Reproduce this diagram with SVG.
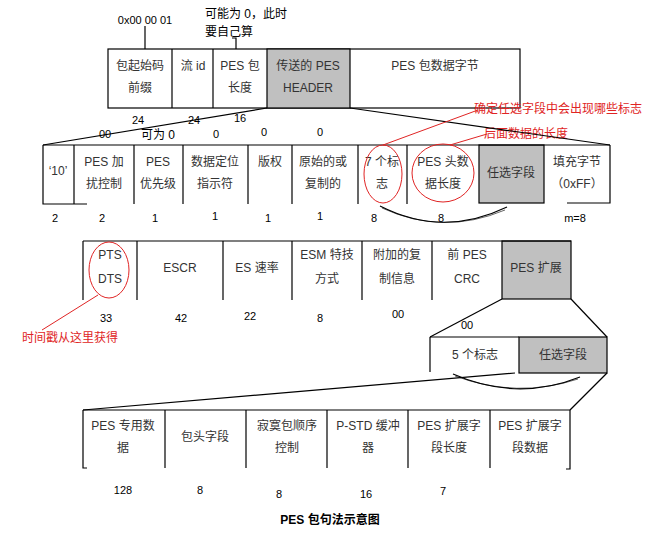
<svg xmlns="http://www.w3.org/2000/svg" width="653" height="534" viewBox="0 0 653 534">
<style>
.ln{stroke:#000;stroke-width:1.2;fill:none}
.gray{fill:#c0c0c0;stroke:#000;stroke-width:1.2}
.t{font-family:"Liberation Sans","Noto Sans CJK SC",sans-serif;font-size:12px;fill:#333;text-anchor:middle}
.n{font-family:"Liberation Sans","Noto Sans CJK SC",sans-serif;font-size:11px;fill:#000;text-anchor:middle}
.r{font-family:"Liberation Sans","Noto Sans CJK SC",sans-serif;font-size:12px;fill:#e02424}
.rl{stroke:#e02424;stroke-width:1;fill:none}
.title{font-family:"Liberation Sans","Noto Sans CJK SC",sans-serif;font-size:12px;font-weight:bold;fill:#000;text-anchor:middle}
</style>
<rect width="653" height="534" fill="#fff"/>

<!-- Row 1 -->
<g id="row1">
  <rect x="108" y="49" width="412" height="59" class="ln" fill="#fff"/>
  <rect x="267" y="49" width="83" height="59" class="gray"/>
  <line x1="172" y1="49" x2="172" y2="108" class="ln"/>
  <line x1="213" y1="49" x2="213" y2="108" class="ln"/>
</g>
<g id="n-start-code"><text class="t" x="140" y="70">包起始码</text><text class="t" x="140" y="92">前缀</text></g>
<g id="n-stream-id"><text class="t" x="193" y="70">流 id</text></g>
<g id="n-pes-len"><text class="t" x="240" y="70">PES 包</text><text class="t" x="240" y="92">长度</text></g>
<g id="n-pes-header"><text class="t" x="308" y="70">传送的 PES</text><text class="t" x="308" y="92">HEADER</text></g>
<g id="n-pes-data"><text class="t" x="435" y="70">PES 包数据字节</text></g>
<g id="row1-labels">
  <text class="n" x="145" y="24">0x00 00 01</text>
  <text class="r" x="205" y="18" style="fill:#000">可能为 0，此时</text>
  <text class="r" x="205" y="36" style="fill:#000">要自己算</text>
  <text class="n" x="138" y="124">24</text>
  <text class="n" x="194" y="124">24</text>
  <text class="n" x="240" y="122">16</text>
</g>

<!-- Row 2 -->
<g id="row2">
  <rect x="479" y="145" width="65" height="58" class="gray"/>
  <line x1="43" y1="145" x2="610" y2="145" class="ln"/>
  <polyline points="87,204 43,204 43,145" class="ln"/>
  <polyline points="567,203 610,203 610,145" class="ln"/>
  <line x1="74" y1="145" x2="74" y2="204" class="ln"/>
  <line x1="134" y1="145" x2="134" y2="204" class="ln"/>
  <line x1="183" y1="145" x2="183" y2="204" class="ln"/>
  <line x1="248" y1="145" x2="248" y2="204" class="ln"/>
  <line x1="292" y1="145" x2="292" y2="204" class="ln"/>
  <line x1="358" y1="145" x2="358" y2="204" class="ln"/>
  <line x1="407" y1="145" x2="407" y2="204" class="ln"/>
</g>
<g id="n-10"><text class="t" x="58" y="175">‘10’</text></g>
<g id="n-scramble"><text class="t" x="104" y="166">PES 加</text><text class="t" x="104" y="188">扰控制</text></g>
<g id="n-priority"><text class="t" x="158" y="166">PES</text><text class="t" x="158" y="188">优先级</text></g>
<g id="n-align"><text class="t" x="215" y="166">数据定位</text><text class="t" x="215" y="188">指示符</text></g>
<g id="n-copyright"><text class="t" x="270" y="166">版权</text></g>
<g id="n-original"><text class="t" x="323" y="166">原始的或</text><text class="t" x="323" y="188">复制的</text></g>
<g id="n-7flags"><text class="t" x="382" y="166">7 个标</text><text class="t" x="382" y="188">志</text></g>
<g id="n-hdr-len"><text class="t" x="443" y="166">PES 头数</text><text class="t" x="443" y="188">据长度</text></g>
<g id="n-optional"><text class="t" x="511" y="177">任选字段</text></g>
<g id="n-stuffing"><text class="t" x="577" y="166">填充字节</text><text class="t" x="577" y="188">（0xFF）</text></g>
<g id="row2-labels">
  <text class="n" x="105" y="138">00</text>
  <text class="n" x="158" y="139" style="font-size:12px">可为 0</text>
  <text class="n" x="216" y="138">0</text>
  <text class="n" x="264" y="136">0</text>
  <text class="n" x="320" y="136">0</text>
  <text class="n" x="55" y="222">2</text>
  <text class="n" x="102" y="222">2</text>
  <text class="n" x="155" y="222">1</text>
  <text class="n" x="215" y="220">1</text>
  <text class="n" x="268" y="222">1</text>
  <text class="n" x="320" y="220">1</text>
  <text class="n" x="374" y="222">8</text>
  <text class="n" x="441" y="222">8</text>
  <text class="n" x="575" y="222">m=8</text>
</g>

<!-- Row 3 -->
<g id="row3">
  <rect x="502" y="241" width="69" height="58" class="gray"/>
  <line x1="83" y1="241" x2="571" y2="241" class="ln"/>
  <line x1="83" y1="241" x2="83" y2="300" class="ln"/>
  <line x1="137" y1="241" x2="137" y2="300" class="ln"/>
  <line x1="223" y1="241" x2="223" y2="300" class="ln"/>
  <line x1="292" y1="241" x2="292" y2="300" class="ln"/>
  <line x1="362" y1="241" x2="362" y2="300" class="ln"/>
  <line x1="432" y1="241" x2="432" y2="300" class="ln"/>
</g>
<g id="n-pts"><text class="t" x="110" y="259">PTS</text><text class="t" x="110" y="283">DTS</text></g>
<g id="n-escr"><text class="t" x="180" y="272">ESCR</text></g>
<g id="n-esrate"><text class="t" x="257" y="272">ES 速率</text></g>
<g id="n-trick"><text class="t" x="327" y="259">ESM 特技</text><text class="t" x="327" y="283">方式</text></g>
<g id="n-addcopy"><text class="t" x="397" y="259">附加的复</text><text class="t" x="397" y="283">制信息</text></g>
<g id="n-crc"><text class="t" x="467" y="259">前 PES</text><text class="t" x="467" y="283">CRC</text></g>
<g id="n-ext"><text class="t" x="536" y="272">PES 扩展</text></g>
<g id="row3-labels">
  <text class="n" x="106" y="322">33</text>
  <text class="n" x="181" y="322">42</text>
  <text class="n" x="250" y="320">22</text>
  <text class="n" x="320" y="322">8</text>
  <text class="n" x="398" y="318">00</text>
  <text class="n" x="467" y="329">00</text>
</g>

<!-- Row 4 -->
<g id="row4">
  <rect x="519" y="337" width="88" height="36" class="gray"/>
  <line x1="430" y1="337" x2="519" y2="337" class="ln"/>
  <line x1="430" y1="337" x2="430" y2="372" class="ln"/>
</g>
<g id="n-5flags"><text class="t" x="475" y="359">5 个标志</text></g>
<g id="n-ext-opt"><text class="t" x="563" y="359">任选字段</text></g>

<!-- Row 5 -->
<g id="row5">
  <line x1="83" y1="410" x2="570" y2="410" class="ln"/>
  <polyline points="87,468 83,468 83,410" class="ln"/>
  <polyline points="566,469 570,469 570,410" class="ln"/>
  <line x1="165" y1="410" x2="165" y2="468" class="ln"/>
  <line x1="246" y1="410" x2="246" y2="468" class="ln"/>
  <line x1="327" y1="410" x2="327" y2="468" class="ln"/>
  <line x1="408" y1="410" x2="408" y2="468" class="ln"/>
  <line x1="490" y1="410" x2="490" y2="468" class="ln"/>
</g>
<g id="n-private"><text class="t" x="123" y="430">PES 专用数</text><text class="t" x="123" y="452">据</text></g>
<g id="n-packhdr"><text class="t" x="205" y="441">包头字段</text></g>
<g id="n-seq"><text class="t" x="287" y="430">寂寞包顺序</text><text class="t" x="287" y="452">控制</text></g>
<g id="n-pstd"><text class="t" x="368" y="430">P-STD 缓冲</text><text class="t" x="368" y="452">器</text></g>
<g id="n-extlen"><text class="t" x="449" y="430">PES 扩展字</text><text class="t" x="449" y="452">段长度</text></g>
<g id="n-extdata"><text class="t" x="530" y="430">PES 扩展字</text><text class="t" x="530" y="452">段数据</text></g>
<g id="row5-labels">
  <text class="n" x="123" y="494">128</text>
  <text class="n" x="200" y="494">8</text>
  <text class="n" x="279" y="498">8</text>
  <text class="n" x="366" y="498">16</text>
  <text class="n" x="443" y="495">7</text>
</g>

<!-- Annotations -->
<g id="annotations">
  <ellipse cx="383" cy="174" rx="19" ry="29" class="rl"/>
  <ellipse cx="443" cy="173" rx="31" ry="29" class="rl"/>
  <ellipse cx="109" cy="270" rx="20" ry="28" class="rl"/>
  <text class="r" x="474" y="113">确定任选字段中会出现哪些标志</text>
  <text class="r" x="484" y="138">后面数据的长度</text>
  <text class="r" x="22" y="342">时间戳从这里获得</text>
</g>

<!-- Connectors -->
<g id="connectors">
  <line x1="145" y1="26" x2="145" y2="49" class="ln"/>
  <polyline points="232,38 236,38 236,49" class="ln"/>
  <line x1="267" y1="108" x2="43" y2="145" class="ln"/>
  <line x1="350" y1="108" x2="610" y2="145" class="ln"/>
  <line x1="502" y1="299" x2="430" y2="337" class="ln"/>
  <line x1="571" y1="299" x2="607" y2="337" class="ln"/>
  <line x1="515" y1="373" x2="83" y2="410" class="ln"/>
  <line x1="607" y1="373" x2="570" y2="410" class="ln"/>
  <path d="M380,206 Q443,238 507,207" class="ln"/>
  <path d="M382,208 Q443,236 505,210" stroke="#000" stroke-width="0.6" fill="none"/>
  <path d="M453,374 Q517,402 580,377" class="ln"/>
  <path d="M455,376 Q517,399 578,379" stroke="#000" stroke-width="0.6" fill="none"/>
  <line x1="383" y1="145" x2="478" y2="110" class="rl"/>
  <line x1="450" y1="145" x2="487" y2="134" class="rl"/>
  <line x1="98" y1="295" x2="42" y2="330" class="rl"/>
</g>

<g id="caption"><text class="title" x="330" y="524">PES 包句法示意图</text></g>
</svg>
